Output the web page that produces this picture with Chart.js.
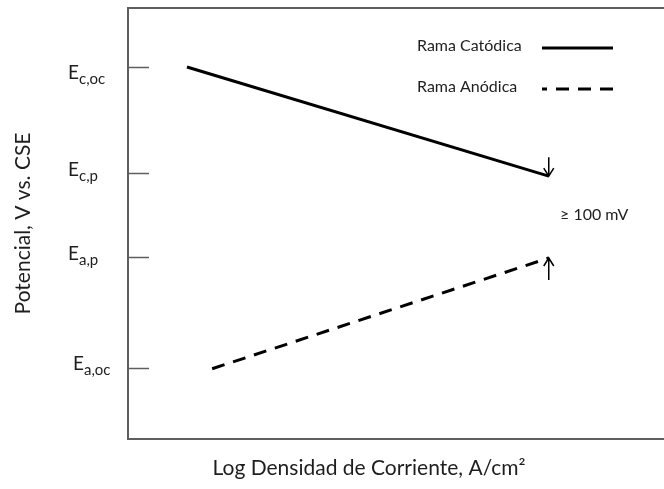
<!DOCTYPE html>
<html>
<head>
<meta charset="utf-8">
<script src="https://cdn.jsdelivr.net/npm/chart.js@4/dist/chart.umd.min.js"></script>
<style>
  html, body { margin: 0; padding: 0; background: #fff; overflow: hidden; }
  #c { display: block; }
</style>
</head>
<body>
<canvas id="c" width="664" height="489"></canvas>
<script>
// ---- data ----
const seriesLabels = ['Rama Catódica', 'Rama Anódica'];
const cathX = [11, 78.5];
const cathY = [86.3, 61.0];
const anodX = [15.7, 78.5];
const anodY = [16.3, 42.0];
const tickValues = [86.3, 61.7, 42.2, 16.5];
const tickMain = ['E', 'E', 'E', 'E'];
const tickSub = ['c,oc', 'c,p', 'a,p', 'a,oc'];
const arrowX = [78.5, 78.5];
const arrowFrom = [65.4, 36.9];
const arrowTo = [61.0, 42.0];
const noteText = '≥ 100 mV';
const noteX = 80.6;
const noteY = 52;
const xTitle = 'Log Densidad de Corriente, A/cm²';
const yTitle = 'Potencial, V vs. CSE';

const FONT = 'Lato, "Open Sans", sans-serif';
const TEXT = '#1e1e1e';
const AXIS = '#5e5e5e';

const toPts = (xs, ys) => xs.map((x, i) => ({ x: x, y: ys[i] }));

const overlay = {
  id: 'overlay',
  afterDraw(chart) {
    const ctx = chart.ctx;
    const ca = chart.chartArea;
    const xs = chart.scales.x, ys = chart.scales.y;
    ctx.save();
    // inward tick marks
    ctx.strokeStyle = AXIS;
    ctx.lineWidth = 1.5;
    tickValues.forEach(v => {
      const py = Math.round(ys.getPixelForValue(v)) + 0.5;
      ctx.beginPath();
      ctx.moveTo(ca.left, py);
      ctx.lineTo(ca.left + 21, py);
      ctx.stroke();
    });
    // tick labels with subscripts
    const labelDx = [0, 0, 0, 5];
    const labelDy = [11.5, 3, 3, 2.5];
    ctx.fillStyle = TEXT;
    ctx.textBaseline = 'alphabetic';
    ctx.textAlign = 'left';
    tickValues.forEach((v, i) => {
      const py = ys.getPixelForValue(v) + labelDy[i];
      const px = 68 + labelDx[i];
      ctx.font = '19px ' + FONT;
      ctx.fillText(tickMain[i], px, py);
      const w = ctx.measureText(tickMain[i]).width;
      ctx.font = '15px ' + FONT;
      ctx.fillText(tickSub[i], px + w, py + 5);
    });
    // legend
    const ds = chart.data.datasets;
    ctx.font = '16px ' + FONT;
    ctx.textBaseline = 'middle';
    const legY = [46, 87];
    ds.forEach((d, i) => {
      ctx.fillStyle = TEXT;
      ctx.fillText(d.label, 417, legY[i]);
      ctx.strokeStyle = d.borderColor;
      ctx.lineWidth = 3;
      ctx.setLineDash(d.borderDash || []);
      ctx.beginPath();
      ctx.moveTo(613, legY[i] + 2);
      ctx.lineTo(542, legY[i] + 2);
      ctx.stroke();
    });
    ctx.setLineDash([]);
    // arrows
    ctx.strokeStyle = '#000';
    ctx.lineWidth = 1.5;
    arrowX.forEach((ax, i) => {
      const px = xs.getPixelForValue(ax);
      const y0 = ys.getPixelForValue(arrowFrom[i]);
      const y1 = ys.getPixelForValue(arrowTo[i]);
      const dir = y1 > y0 ? 1 : -1;
      ctx.beginPath();
      ctx.moveTo(px, y0);
      ctx.lineTo(px, y1);
      ctx.moveTo(px - 5, y1 - dir * 8);
      ctx.lineTo(px, y1);
      ctx.lineTo(px + 5, y1 - dir * 8);
      ctx.stroke();
    });
    // note
    ctx.fillStyle = TEXT;
    ctx.font = '16px ' + FONT;
    ctx.textBaseline = 'middle';
    ctx.fillText(noteText, xs.getPixelForValue(noteX), ys.getPixelForValue(noteY));
    // x title
    ctx.font = '21px ' + FONT;
    ctx.textAlign = 'center';
    ctx.fillText(xTitle, 369, 468);
    ctx.restore();
  }
};

new Chart(document.getElementById('c'), {
  type: 'scatter',
  data: {
    datasets: [
      {
        label: seriesLabels[0],
        data: toPts(cathX, cathY),
        showLine: true,
        borderColor: '#000',
        borderWidth: 3,
        pointRadius: 0,
        fill: false
      },
      {
        label: seriesLabels[1],
        data: toPts(anodX, anodY),
        showLine: true,
        borderColor: '#000',
        borderWidth: 3,
        borderDash: [13, 9],
        pointRadius: 0,
        fill: false
      }
    ]
  },
  options: {
    responsive: false,
    animation: false,
    events: [],
    layout: { padding: 0 },
    plugins: {
      legend: { display: false },
      tooltip: { enabled: false },
      title: { display: false }
    },
    scales: {
      x: {
        type: 'linear', position: 'bottom', min: 0, max: 100,
        grid: { display: false },
        border: { display: true, color: AXIS, width: 2 },
        ticks: { display: false },
        afterFit(s) { s.height = 50; }
      },
      x2: {
        type: 'linear', position: 'top', min: 0, max: 100,
        grid: { display: false },
        border: { display: true, color: AXIS, width: 2 },
        ticks: { display: false },
        afterFit(s) { s.height = 8; }
      },
      y: {
        type: 'linear', position: 'left', min: 0, max: 100,
        grid: { display: false },
        border: { display: true, color: AXIS, width: 2 },
        ticks: { display: false },
        title: {
          display: true, text: yTitle, color: TEXT,
          font: { family: FONT, size: 21 },
          padding: { top: 11, bottom: 0 }
        },
        afterFit(s) { s.width = 128; }
      }
    }
  },
  plugins: [overlay]
});
</script>
</body>
</html>
